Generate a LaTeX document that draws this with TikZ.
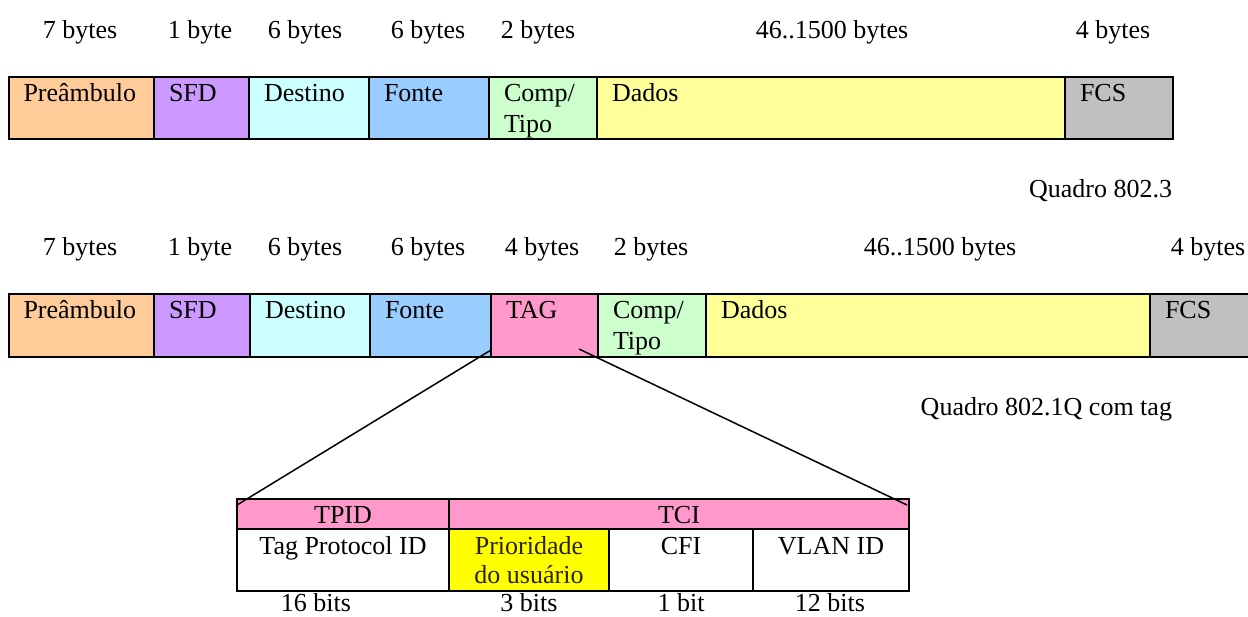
\documentclass[tikz,border=0pt]{standalone}
\usepackage{fontspec}
\setmainfont{Liberation Serif}
\definecolor{cPre}{HTML}{FFCC99}
\definecolor{cSFD}{HTML}{CC99FF}
\definecolor{cDst}{HTML}{CCFFFF}
\definecolor{cSrc}{HTML}{99CCFF}
\definecolor{cTag}{HTML}{FF99CC}
\definecolor{cLen}{HTML}{CCFFCC}
\definecolor{cDat}{HTML}{FFFF99}
\definecolor{cFcs}{HTML}{C0C0C0}
\definecolor{cPri}{HTML}{FFFF00}
\definecolor{cPriTxt}{HTML}{2A2200}
\newcommand{\fld}[7]{%
  \path[draw=black,line width=2pt,fill=#6] (#2,#4) rectangle (#3,#5);
  \node[fieldbox,minimum width={(#3-#2)*1pt},minimum height={(#5-#4)*1pt},anchor=north west] (#1) at (#2,#4) {};
  \node[ftext,anchor=base west] (#1t) at (#2+15,#4+24) {#7};
}
\begin{document}
\begin{tikzpicture}[x=1pt,y=-1pt,
  every node/.style={font=\fontsize{26}{31}\selectfont,inner sep=0pt,outer sep=0pt},
  fieldbox/.style={draw=none},
  ftext/.style={},
  lbl/.style={anchor=base},
  cell/.style={draw=black,line width=1.8pt},
  conn/.style={draw=black,line width=1.5pt}]
\useasboundingbox (0,0) rectangle (1248,616);
% ---- Frame 802.3 ----
\foreach \t/\x in {7 bytes/80,1 byte/200,6 bytes/305,6 bytes/428,2 bytes/538,46..1500 bytes/832,4 bytes/1113}
  \node[lbl] at (\x,38) {\t};
\fld{a1}{8.5}{154}{77}{139}{cPre}{Preâmbulo}
\fld{a2}{154}{249}{77}{139}{cSFD}{SFD}
\fld{a3}{249}{369}{77}{139}{cDst}{Destino}
\fld{a4}{369}{489}{77}{139}{cSrc}{Fonte}
\fld{a5}{489}{597}{77}{139}{cLen}{Comp/}
\node[ftext,anchor=base west] (a5u) at (504,132) {Tipo};
\fld{a6}{597}{1065}{77}{139}{cDat}{Dados}
\fld{a7}{1065}{1173}{77}{139}{cFcs}{FCS}
\node[anchor=base east] (q1) at (1172,197) {Quadro 802.3};
% ---- Frame 802.1Q ----
\foreach \t/\x in {7 bytes/80,1 byte/200,6 bytes/305,6 bytes/428,4 bytes/542,2 bytes/651,46..1500 bytes/940,4 bytes/1208}
  \node[lbl] at (\x,255) {\t};
\fld{b1}{8.5}{154}{294}{357}{cPre}{Preâmbulo}
\fld{b2}{154}{250}{294}{357}{cSFD}{SFD}
\fld{b3}{250}{370}{294}{357}{cDst}{Destino}
\fld{b4}{370}{491}{294}{357}{cSrc}{Fonte}
\fld{b5}{491}{598}{294}{357}{cTag}{TAG}
\fld{b6}{598}{706}{294}{357}{cLen}{Comp/}
\node[ftext,anchor=base west] (b6u) at (613,349) {Tipo};
\fld{b7}{706}{1150}{294}{357}{cDat}{Dados}
\fld{b8}{1150}{1260}{294}{357}{cFcs}{FCS}
\node[anchor=base east] (q2) at (1172,415) {Quadro 802.1Q com tag};
% ---- TAG detail ----
\path[fill=cTag] (237,499) rectangle (909,529);
\path[fill=cPri] (449,529) rectangle (609,591);
\node[cell,minimum width=212pt,minimum height=30pt,anchor=north west] (tpid) at (237,499) {};
\node[cell,minimum width=460pt,minimum height=30pt,anchor=north west] (tci) at (449,499) {};
\node[cell,minimum width=212pt,minimum height=62pt,anchor=north west] (c1) at (237,529) {};
\node[cell,minimum width=160pt,minimum height=62pt,anchor=north west] (c2) at (449,529) {};
\node[cell,minimum width=144pt,minimum height=62pt,anchor=north west] (c3) at (609,529) {};
\node[cell,minimum width=156pt,minimum height=62pt,anchor=north west] (c4) at (753,529) {};
\node[lbl] at (343,523) {TPID};
\node[lbl] at (679,523) {TCI};
\node[lbl] at (343,554) {Tag Protocol ID};
\node[lbl,text=cPriTxt] at (529,554) {Prioridade};
\node[lbl,text=cPriTxt] at (529,583) {do usuário};
\node[lbl] at (681,554) {CFI};
\node[lbl] at (831,554) {VLAN ID};
\node[lbl] at (316,611) {16 bits};
\node[lbl] at (529,611) {3 bits};
\node[lbl] at (681,611) {1 bit};
\node[lbl] at (830,611) {12 bits};
% connectors
\coordinate (z1) at (491,350);
\coordinate (z2) at (237,505);
\coordinate (z3) at (579,349);
\coordinate (z4) at (907,505);
\draw[conn] (z1) -- (z2);
\draw[conn] (z3) -- (z4);
\end{tikzpicture}
\end{document}
